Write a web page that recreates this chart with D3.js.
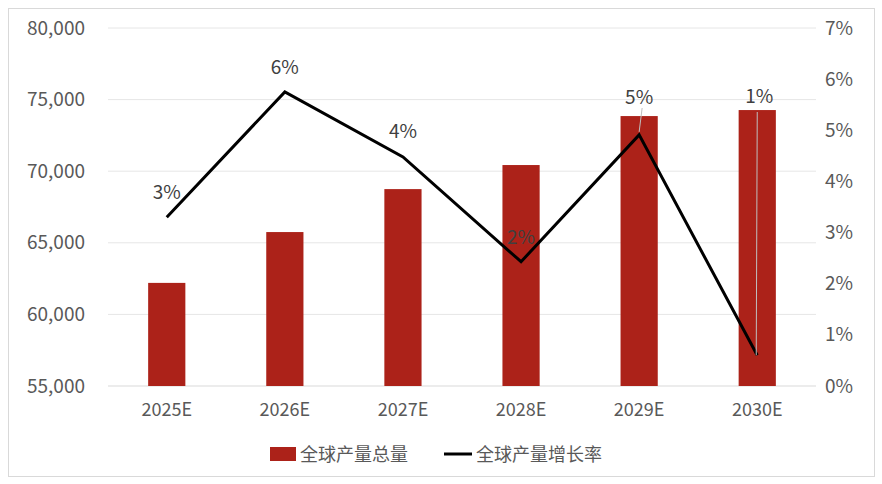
<!DOCTYPE html>
<html><head><meta charset="utf-8">
<script src="https://cdn.jsdelivr.net/npm/d3@7"></script>
<style>body{margin:0;background:#fff}</style></head>
<body><svg id="c" width="882" height="484"></svg>
<script>
const categories=["2025E","2026E","2027E","2028E","2029E","2030E"];
const totals=[62200,65750,68750,70430,73850,74270];
const growth=[3.3,5.75,4.48,2.43,4.91,0.6];
const growthLabels=["3%","6%","4%","2%","5%","1%"];
const leftTicks=[55000,60000,65000,70000,75000,80000];
const rightTicks=[0,1,2,3,4,5,6,7];
const svg=d3.select("#c");
const font="'Microsoft YaHei','Noto Sans CJK SC',sans-serif";
svg.append("rect").attr("x",8.5).attr("y",8.5).attr("width",866).attr("height",468).attr("fill","#fff").attr("stroke","#d9d9d9");
const x=d3.scaleBand().domain(categories).range([108,816]).paddingInner(0.685).paddingOuter(0.34);
const y=d3.scaleLinear().domain([55000,80000]).range([386,28]);
const y2=d3.scaleLinear().domain([0,7]).range([386,28]);
svg.append("g").selectAll("line").data(leftTicks.slice(1)).join("line")
 .attr("x1",108).attr("x2",816).attr("y1",d=>y(d)).attr("y2",d=>y(d)).attr("stroke","#e6e6e6");
svg.append("line").attr("x1",108).attr("x2",816).attr("y1",386).attr("y2",386).attr("stroke","#d9d9d9");
const ax=svg.append("g").attr("transform","translate(88,0)").call(d3.axisLeft(y).tickValues(leftTicks).tickFormat(d3.format(",")).tickSize(0));
ax.select(".domain").remove();
ax.selectAll("text").attr("font-size",19).attr("fill","#595959").attr("font-family",font);
const ar=svg.append("g").attr("transform","translate(822,0)").call(d3.axisRight(y2).tickValues(rightTicks).tickFormat(d=>d+"%").tickSize(0));
ar.select(".domain").remove();
ar.selectAll("text").attr("font-size",19).attr("fill","#595959").attr("font-family",font);
const ab=svg.append("g").attr("transform","translate(0,400)").call(d3.axisBottom(x).tickSize(0));
ab.select(".domain").remove();
ab.selectAll("text").attr("font-size",18).attr("fill","#595959").attr("font-family",font);
svg.append("g").selectAll("rect").data(totals).join("rect")
 .attr("x",(d,i)=>x(categories[i])).attr("width",x.bandwidth())
 .attr("y",d=>y(d)).attr("height",d=>386-y(d)).attr("fill","#ac2219");
const cx=i=>x(categories[i])+x.bandwidth()/2;
svg.append("path").datum(growth).attr("fill","none").attr("stroke","#000").attr("stroke-width",3)
 .attr("d",d3.line().x((d,i)=>cx(i)).y(d=>y2(d)));
// leader lines
svg.append("line").attr("x1",cx(5)).attr("x2",cx(5)-1).attr("y1",112).attr("y2",y2(growth[5])).attr("stroke","#bfbfbf");
svg.append("line").attr("x1",cx(4)+3).attr("x2",cx(4)).attr("y1",108).attr("y2",y2(growth[4])-3).attr("stroke","#bfbfbf");
const ly=[199,74,138,244,104,103];
svg.append("g").selectAll("text").data(growthLabels).join("text")
 .attr("x",(d,i)=>cx(i)+(i==5?2:0)).attr("y",(d,i)=>ly[i]).attr("text-anchor","middle")
 .attr("font-size",19).attr("fill","#404040").attr("font-family",font).text(d=>d);
const lg=svg.append("g").attr("font-family",font).attr("font-size",18).attr("fill","#595959");
lg.append("rect").attr("x",270).attr("y",447).attr("width",26).attr("height",14).attr("fill","#ac2219");
lg.append("text").attr("x",300).attr("y",461).text("全球产量总量");
lg.append("line").attr("x1",444).attr("x2",472).attr("y1",454).attr("y2",454).attr("stroke","#000").attr("stroke-width",3);
lg.append("text").attr("x",476).attr("y",461).text("全球产量增长率");
</script></body></html>
